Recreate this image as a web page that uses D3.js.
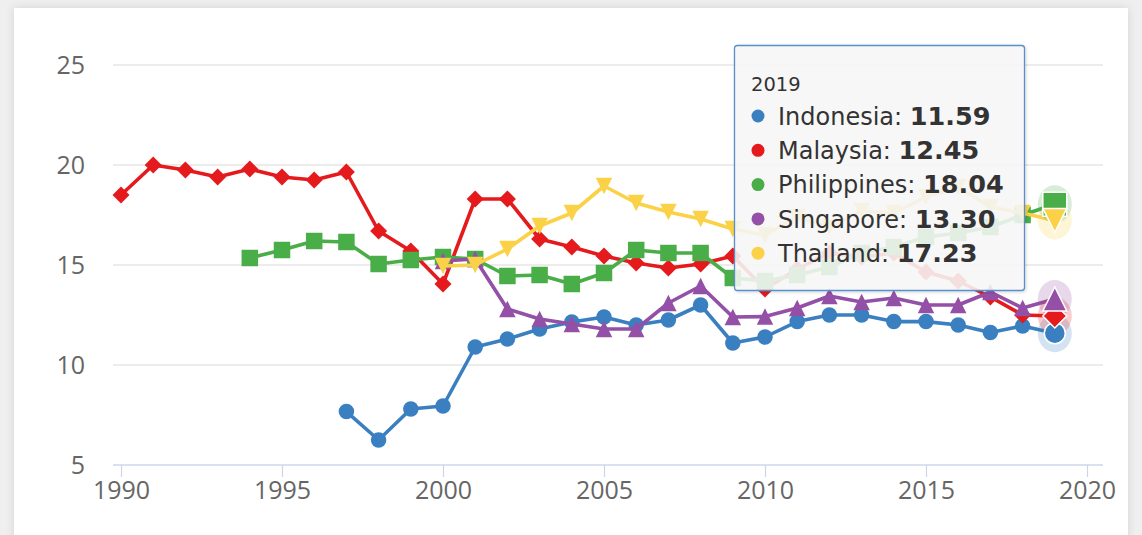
<!DOCTYPE html>
<html><head><meta charset="utf-8">
<script src="https://cdn.jsdelivr.net/npm/d3@7"></script>
<style>
html,body{margin:0;padding:0;background:#efefef;}
svg{display:block;}
</style></head>
<body>
<svg id="chart" width="1142" height="535"></svg>
<script>
const years = d3.range(1990, 2020);
const xTicks = [1990, 1995, 2000, 2005, 2010, 2015, 2020];
const yTicks = [5, 10, 15, 20, 25];
const seriesNames = ["Indonesia", "Malaysia", "Philippines", "Singapore", "Thailand"];
const seriesColors = ["#3a7fc0", "#e41a1c", "#4aae48", "#9350a6", "#fbd148"];
const seriesMarkers = ["circle", "diamond", "square", "triangle", "triangle-down"];
const indonesia = [null,null,null,null,null,null,null,7.67,6.25,7.8,7.95,10.9,11.3,11.8,12.15,12.4,12.0,12.25,13.0,11.1,11.4,12.17,12.5,12.5,12.17,12.17,12.0,11.62,11.95,11.59];
const malaysia = [18.5,20.0,19.75,19.4,19.8,19.4,19.25,19.65,16.7,15.7,14.05,18.3,18.3,16.3,15.9,15.45,15.1,14.85,15.05,15.45,13.8,14.8,15.6,15.4,15.6,14.65,14.2,13.4,12.5,12.45];
const philippines = [null,null,null,null,15.35,15.75,16.2,16.15,15.05,15.25,15.4,15.3,14.45,14.5,14.05,14.6,15.75,15.6,15.6,14.35,14.2,14.5,14.9,15.6,15.9,16.4,16.6,16.9,17.5,18.04];
const singapore = [null,null,null,null,null,null,null,null,null,null,15.2,15.3,12.8,12.3,12.05,11.8,11.8,13.1,13.95,12.4,12.42,12.85,13.45,13.15,13.35,13.0,13.0,13.65,12.85,13.30];
const thailand = [null,null,null,null,null,null,null,null,null,null,14.95,15.0,15.8,16.95,17.6,18.95,18.1,17.65,17.3,16.8,16.5,17.4,16.9,17.7,17.6,18.4,18.9,17.9,17.6,17.23];
const seriesValues = [indonesia, malaysia, philippines, singapore, thailand];
const hoverYear = 2019;

const svg = d3.select("#chart");
const defs = svg.append("defs");
const f = defs.append("filter").attr("id","cardShadow").attr("x","-5%").attr("y","-5%").attr("width","110%").attr("height","110%");
f.append("feDropShadow").attr("dx",0).attr("dy",0).attr("stdDeviation",4).attr("flood-color","#000").attr("flood-opacity",0.12);
const f2 = defs.append("filter").attr("id","tipShadow").attr("x","-10%").attr("y","-10%").attr("width","125%").attr("height","125%");
f2.append("feDropShadow").attr("dx",1).attr("dy",1).attr("stdDeviation",1.5).attr("flood-color","#000").attr("flood-opacity",0.18);
svg.append("rect").attr("x",14).attr("y",8).attr("width",1114).attr("height",540).attr("fill","#fff").attr("filter","url(#cardShadow)");

const x = d3.scaleLinear().domain([1990, 2020]).range([121, 1087]);
const y = d3.scaleLinear().domain([5, 25]).range([465, 65]);
const plotLeft = 113, plotRight = 1103;
const font = "'Open Sans', sans-serif";
const tipFont = "'DejaVu Sans', sans-serif";

svg.append("g").selectAll("line").data(yTicks.filter(t => t !== 5)).join("line")
  .attr("x1", plotLeft).attr("x2", plotRight)
  .attr("y1", d => y(d)).attr("y2", d => y(d))
  .attr("stroke", "#e6e6e6").attr("stroke-width", 1.5);

svg.append("g").selectAll("text").data(yTicks).join("text")
  .attr("x", 85).attr("y", d => y(d)).attr("dy", "0.35em")
  .attr("text-anchor", "end").attr("fill", "#666")
  .style("font-family", font).style("font-size", "25px")
  .text(d => d);

const xAxis = d3.axisBottom(x).tickValues(xTicks).tickFormat(d3.format("d")).tickSize(12).tickPadding(4);
const gx = svg.append("g").attr("transform", `translate(0,${y(5)})`).call(xAxis);
gx.select(".domain").attr("d", `M${plotLeft},0H${plotRight}`).attr("stroke", "#ccd6eb").attr("stroke-width", 1.5);
gx.selectAll(".tick line").attr("stroke", "#ccd6eb").attr("stroke-width", 1.2);
gx.selectAll(".tick text").attr("fill", "#666").style("font-family", font).style("font-size", "25px");

function markerPath(type, s) {
  const p = d3.path();
  if (type === "circle") { p.arc(0, 0, s / 2, 0, 2 * Math.PI); }
  else if (type === "square") { p.rect(-s/2, -s/2, s, s); }
  else if (type === "diamond") { p.moveTo(0,-s/2); p.lineTo(s/2,0); p.lineTo(0,s/2); p.lineTo(-s/2,0); p.closePath(); }
  else if (type === "triangle") { p.moveTo(0,-s/2); p.lineTo(s/2,s/2); p.lineTo(-s/2,s/2); p.closePath(); }
  else if (type === "triangle-down") { p.moveTo(-s/2,-s/2); p.lineTo(s/2,-s/2); p.lineTo(0,s/2); p.closePath(); }
  return p.toString();
}
const markerSize = {circle: 15.5, square: 16.5, diamond: 17, triangle: 16.5, "triangle-down": 16.5};

const line = d3.line().defined(d => d.v !== null).x(d => x(d.yr)).y(d => y(d.v));

const seriesG = svg.append("g");
seriesNames.forEach((name, i) => {
  const data = years.map((yr, k) => ({yr, v: seriesValues[i][k]}));
  const g = seriesG.append("g");
  g.append("path").datum(data).attr("d", line).attr("fill", "none")
    .attr("stroke", seriesColors[i]).attr("stroke-width", 3.6).attr("stroke-linejoin", "round");
  g.selectAll("path.m").data(data.filter(d => d.v !== null && d.yr !== hoverYear)).join("path").attr("class","m")
    .attr("transform", d => `translate(${x(d.yr)},${y(d.v)})`)
    .attr("d", markerPath(seriesMarkers[i], markerSize[seriesMarkers[i]]))
    .attr("fill", seriesColors[i]);
});

const hk = years.indexOf(hoverYear);
const hoverG = svg.append("g");
seriesNames.forEach((name, i) => {
  const v = seriesValues[i][hk];
  hoverG.append("ellipse").attr("cx", x(hoverYear)).attr("cy", y(v)).attr("rx", 17).attr("ry", 19)
    .attr("fill", seriesColors[i]).attr("opacity", 0.22);
});
seriesNames.forEach((name, i) => {
  const v = seriesValues[i][hk];
  const t = seriesMarkers[i];
  hoverG.append("path").attr("transform", `translate(${x(hoverYear)},${y(v)})`)
    .attr("d", markerPath(t, t === "circle" ? 21 : 24))
    .attr("fill", seriesColors[i]).attr("stroke", "#fff").attr("stroke-width", 1.5);
});

const tip = svg.append("g").attr("transform", "translate(734,45)");
tip.append("rect").attr("x",0.5).attr("y",0.5).attr("width",290).attr("height",245).attr("rx",3)
  .attr("fill", "rgba(248,248,248,0.87)").attr("stroke", "#5a8fca").attr("stroke-width", 1.3)
  .attr("filter","url(#tipShadow)");
tip.append("text").attr("x", 17).attr("y", 46).attr("fill", "#333")
  .style("font-family", tipFont).style("font-size", "19.5px").text(hoverYear);
seriesNames.forEach((name, i) => {
  const cy = 71 + i * 34.3;
  tip.append("circle").attr("cx", 24).attr("cy", cy).attr("r", 6.5).attr("fill", seriesColors[i]);
  const t = tip.append("text").attr("x", 44).attr("y", cy).attr("dy", "0.36em").attr("fill", "#333")
    .style("font-family", tipFont).style("font-size", "24px");
  t.append("tspan").text(name + ": ");
  t.append("tspan").attr("font-weight", "bold").style("font-size", "25.5px").text(seriesValues[i][hk].toFixed(2));
});
</script>
</body></html>
